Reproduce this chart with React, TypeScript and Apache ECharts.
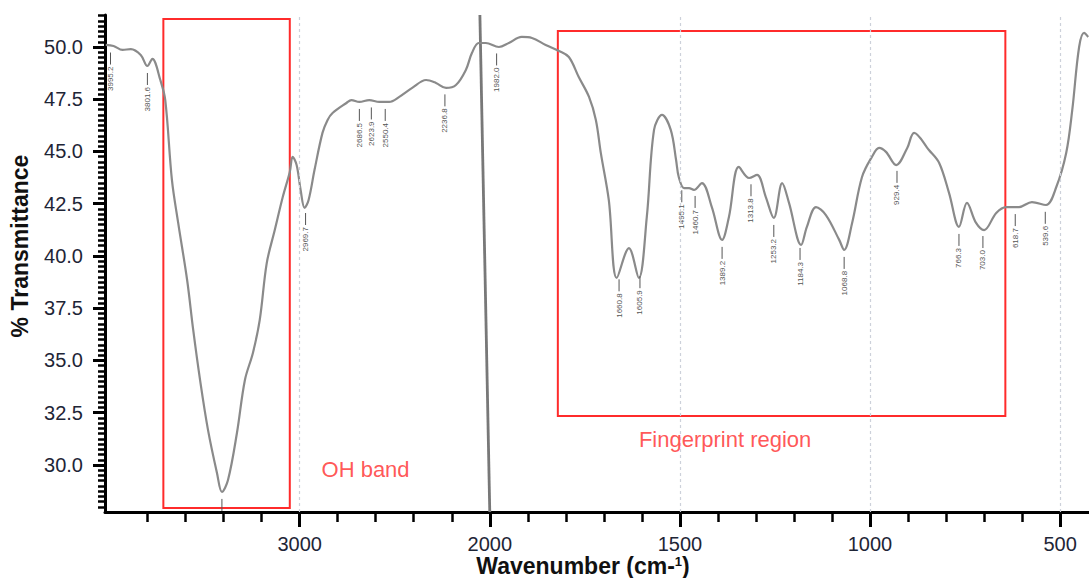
import React, { useEffect, useRef } from "react";
import * as echarts from "echarts";

// Spectrum (wavenumber in cm-1, % transmittance)
const wavenumbers = [
  4020, 3979, 3932, 3888, 3836, 3801, 3775, 3733, 3707, 3672, 3639, 3592, 3560, 3524, 3482, 3435, 3409,
  3377, 3330, 3288, 3246, 3210, 3173, 3131, 3089, 3052, 3037, 3016, 2995, 2974, 2953, 2922, 2880, 2853,
  2827, 2754, 2728, 2686, 2634, 2581, 2529, 2476, 2408, 2335, 2283, 2230, 2178, 2126, 2094, 2058, 2021,
  1976, 1950, 1916, 1889, 1853, 1818, 1792, 1766, 1739, 1721, 1708, 1687, 1666, 1634, 1608, 1587, 1568,
  1547, 1524, 1510, 1503, 1489, 1476, 1463, 1442, 1416, 1389, 1371, 1345, 1318, 1297, 1274, 1253, 1231,
  1213, 1181, 1166, 1142, 1116, 1081, 1068, 1047, 1021, 995, 976, 958, 931, 902, 884, 845, 818, 792, 766,
  745, 721, 700, 668, 642, 608, 574, 537, 510, 484, 468, 450, 437, 426,
];
const transmittance = [
  50.1, 50.05, 49.86, 49.9, 49.62, 49.09, 49.43, 48.42, 47.46, 43.64, 41.58, 38.85, 36.46, 34.07, 31.67, 29.62, 28.71,
  29.28, 31.53, 34.07, 35.36, 36.94, 39.67, 41.24, 42.82, 44.02, 44.74, 44.35, 43.16, 42.3, 42.68, 44.11, 45.89, 46.51,
  46.84, 47.32, 47.46, 47.37, 47.46, 47.37, 47.37, 47.61, 48.04, 48.42, 48.28, 48.04, 48.18, 48.9, 49.71, 50.19, 50.19,
  50.0, 50.19, 50.48, 50.43, 50.1, 49.81, 49.52, 48.56, 47.61, 46.51, 44.93, 42.68, 38.95, 40.38, 38.95, 41.87, 46.03,
  46.75, 46.03, 44.59, 43.78, 43.25, 43.25, 43.16, 43.49, 42.34, 40.77, 41.87, 44.26, 43.73, 43.88, 42.82, 41.82, 43.49,
  42.54, 40.53, 41.39, 42.34, 41.96, 40.77, 40.29, 41.58, 43.78, 44.74, 45.17, 44.98, 44.35, 45.17, 45.89, 45.07, 44.45, 43.01, 41.39,
  42.54, 41.58, 41.24, 42.06, 42.34, 42.34, 42.58, 42.44, 43.3, 44.93, 46.99, 50.0, 50.67, 50.48,
];

// Peak annotations
const peakWavenumbers = [3995, 3801, 2969, 2686, 2623, 2550, 2236, 1982, 1660, 1605, 1495, 1460, 1389, 1313, 1253, 1184, 1068, 929, 766, 703, 618, 539, 3409];
const peakLabels = ["3995.2", "3801.6", "2969.7", "2686.5", "2623.9", "2550.4", "2236.8", "1982.0", "1660.8", "1605.9", "1495.1", "1460.7", "1389.2", "1313.8", "1253.2", "1184.3", "1068.8", "929.4", "766.3", "703.0", "618.7", "539.6", "3409.9"];

// Axes
const xMajorTicks = [3000, 2000, 1500, 1000, 500];
const xMinorTicks = [3800, 3600, 3400, 3200, 2800, 2600, 2400, 2200, 1900, 1800, 1700, 1600, 1400, 1300, 1200, 1100, 900, 800, 700, 600];
const xGridLines = [3000, 1500, 1000, 500];
const yMajorTicks = [30, 32.5, 35, 37.5, 40, 42.5, 45, 47.5, 50];
const xRange = [4024, 424];
const yRange = [27.75, 51.53];

// Highlight boxes [wavenumber from, T top, wavenumber to, T bottom]
const ohBandBox = [3717, 51.34, 3052, 27.94];
const fingerprintBox = [1821, 50.77, 644, 32.34];
const annotationTexts = ["OH band", "Fingerprint region"];
const annotationWavenumbers = [2885, 1381];
const annotationT = [29.76, 31.2];
// Vertical artefact line near 2000 cm-1
const spikeWavenumbers = [2052, 2000];
const spikeT = [51.53, 27.75];

const FONT = "'Liberation Sans', Arial, sans-serif";

function toT(w: number) {
  return w > 2000 ? 1000 + w / 2 : w;
}
function fromT(t: number) {
  return t > 2000 ? (t - 1000) * 2 : t;
}
function interp(w: number) {
  for (let i = 0; i < wavenumbers.length - 1; i++) {
    const a = wavenumbers[i], b = wavenumbers[i + 1];
    if (w <= a && w >= b) {
      const f = (a - w) / (a - b);
      return transmittance[i] + f * (transmittance[i + 1] - transmittance[i]);
    }
  }
  return transmittance[0];
}

export default function App() {
  const ref = useRef<HTMLDivElement>(null);
  useEffect(() => {
    if (!ref.current) return;
    const chart = echarts.init(ref.current, null, { renderer: "svg" });
    const yMinor: number[] = [];
    for (let v = 28; v <= 51.5001; v += 0.25) yMinor.push(Math.round(v * 100) / 100);
    const curve = wavenumbers.map((w, i) => [toT(w), transmittance[i]]);
    const peaks = peakWavenumbers.map((w) => [toT(w), interp(w)]);
    const common = {
      type: "value",
      min: toT(xRange[1]),
      max: toT(xRange[0]),
      inverse: true,
      splitLine: { show: false },
    };
    chart.setOption({
      animation: false,
      backgroundColor: "#ffffff",
      grid: { left: 105, right: 0, top: 15, bottom: 66 },
      xAxis: [
        {
          ...common,
          position: "bottom",
          axisLine: { show: true, lineStyle: { color: "#000", width: 3 } },
          axisTick: { show: true, customValues: xMajorTicks.map(toT), length: 15, lineStyle: { color: "#000", width: 3 } },
          axisLabel: {
            show: true,
            customValues: xMajorTicks.map(toT),
            formatter: (v: number) => String(Math.round(fromT(v))),
            fontSize: 20,
            fontFamily: FONT,
            color: "#1e2536",
            margin: 22,
          },
        },
        {
          ...common,
          position: "bottom",
          axisLine: { show: false },
          axisTick: { show: true, customValues: xMinorTicks.map(toT), length: 10, lineStyle: { color: "#000", width: 2.5 } },
          axisLabel: { show: false },
        },
      ],
      yAxis: [
        {
          type: "value",
          min: yRange[0],
          max: yRange[1],
          position: "left",
          splitLine: { show: false },
          axisLine: { show: true, lineStyle: { color: "#000", width: 3 } },
          axisTick: { show: true, customValues: yMajorTicks, length: 12, lineStyle: { color: "#000", width: 3 } },
          axisLabel: {
            show: true,
            customValues: yMajorTicks,
            formatter: (v: number) => v.toFixed(1),
            fontSize: 20,
            fontFamily: FONT,
            color: "#1e2536",
            margin: 22,
          },
        },
        {
          type: "value",
          min: yRange[0],
          max: yRange[1],
          position: "left",
          splitLine: { show: false },
          axisLine: { show: false },
          axisTick: { show: true, customValues: yMinor, length: 7, lineStyle: { color: "#000", width: 2.5 } },
          axisLabel: { show: false },
        },
      ],
      series: [
        {
          type: "line",
          data: [],
          z: 1,
          silent: true,
          markLine: {
            silent: true,
            symbol: ["none", "none"],
            label: { show: false },
            lineStyle: { color: "#cdd1da", type: [3, 3], width: 1.2 },
            data: xGridLines.map((w) => ({ xAxis: toT(w) })),
          },
          markArea: {
            silent: true,
            itemStyle: { color: "rgba(0,0,0,0)", borderColor: "#ff2b2b", borderWidth: 2 },
            label: { show: false },
            data: [
              [{ coord: [toT(ohBandBox[0]), ohBandBox[1]] }, { coord: [toT(ohBandBox[2]), ohBandBox[3]] }],
              [{ coord: [toT(fingerprintBox[0]), fingerprintBox[1]] }, { coord: [toT(fingerprintBox[2]), fingerprintBox[3]] }],
            ],
          },
        },
        {
          type: "line",
          data: spikeWavenumbers.map((w, i) => [toT(w), spikeT[i]]),
          showSymbol: false,
          z: 2,
          lineStyle: { color: "#787878", width: 2.8 },
          silent: true,
        },
        {
          type: "line",
          data: curve,
          smooth: 0.35,
          showSymbol: false,
          z: 3,
          lineStyle: { color: "#8a8a8a", width: 2.2 },
          silent: true,
        },
        {
          type: "custom",
          data: peaks,
          z: 4,
          clip: true,
          silent: true,
          renderItem: (params: any, api: any) => {
            const p = api.coord([api.value(0), api.value(1)]);
            return {
              type: "group",
              children: [
                {
                  type: "line",
                  shape: { x1: p[0], y1: p[1] + 7, x2: p[0], y2: p[1] + 19 },
                  style: { stroke: "#555", lineWidth: 1 },
                },
                {
                  type: "text",
                  x: p[0],
                  y: p[1] + 21,
                  rotation: Math.PI / 2,
                  style: {
                    text: peakLabels[params.dataIndex],
                    fontSize: 8,
                    fontFamily: FONT,
                    fill: "#555",
                    align: "right",
                    verticalAlign: "middle",
                  },
                },
              ],
            };
          },
        },
        {
          type: "scatter",
          symbolSize: 0,
          z: 5,
          silent: true,
          data: annotationTexts.map((txt, i) => ({
            value: [toT(annotationWavenumbers[i]), annotationT[i]],
            label: {
              show: true,
              formatter: txt,
              position: i === 0 ? "right" : "inside",
              distance: 0,
              color: "#ff2b2b",
              fontSize: 22,
              fontFamily: FONT,
            },
          })),
        },
      ],
      graphic: [
        {
          type: "text",
          x: 20,
          y: 246,
          rotation: Math.PI / 2,
          style: {
            text: "% Transmittance",
            font: `bold 23px ${FONT}`,
            fill: "#111",
            align: "center",
            verticalAlign: "middle",
          },
        },
        {
          type: "text",
          x: 583,
          y: 566,
          style: {
            text: "{a|Wavenumber (cm-}{b|1}{a|)}",
            align: "center",
            verticalAlign: "middle",
            rich: {
              a: { fontSize: 23, fontWeight: "bold", fontFamily: FONT, fill: "#111", color: "#111" },
              b: { fontSize: 13, fontWeight: "bold", fontFamily: FONT, fill: "#111", color: "#111", padding: [0, 0, 9, 0] },
            },
          },
        },
      ],
    });
    return () => chart.dispose();
  }, []);
  return (
    <div
      ref={ref}
      style={{ position: "fixed", left: 0, top: 0, width: 1089, height: 578, background: "#fff" }}
    />
  );
}
